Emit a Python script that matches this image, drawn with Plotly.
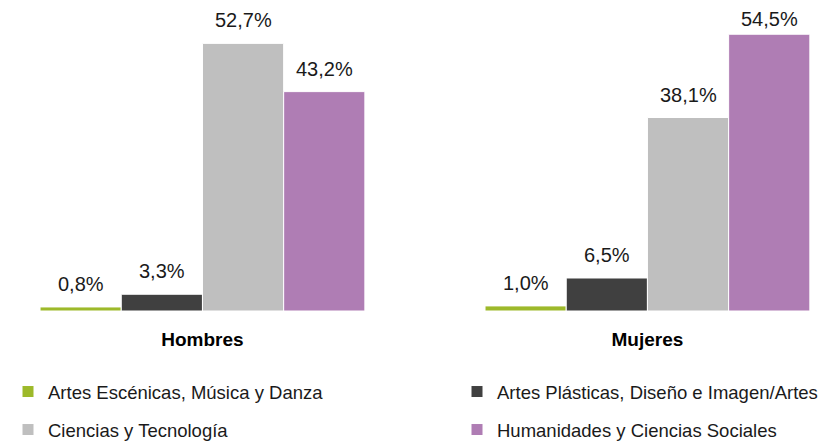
import plotly.graph_objects as go

grupos = ["Hombres", "Mujeres"]
series = [
    "Artes Escénicas, Música y Danza",
    "Artes Plásticas, Diseño e Imagen/Artes",
    "Ciencias y Tecnología",
    "Humanidades y Ciencias Sociales",
]
valores = [
    [0.8, 1.0],
    [3.3, 6.5],
    [52.7, 38.1],
    [43.2, 54.5],
]
colores = ["#9DB92A", "#404040", "#BFBFBF", "#AF7DB4"]

FONT = "Liberation Sans, Arial, sans-serif"
W, H = 833, 441
M_TOP, M_BOT = 12, 138
Y_MAX = 57.3
bargap = 0.27
bar_w = (1 - bargap) / len(series)

plot_h = H - M_TOP - M_BOT
px_per_unit = plot_h / Y_MAX

fig = go.Figure()
for k, (name, vals, col) in enumerate(zip(series, valores, colores)):
    fig.add_trace(go.Bar(
        x=grupos, y=vals, name=name,
        marker=dict(color=col, line=dict(color="white", width=1)),
        legend="legend" if k == 0 else f"legend{k + 1}",
    ))
    off = (k - (len(series) - 1) / 2) * bar_w
    for i, v in enumerate(vals):
        # keep the label inside the figure: pull it down toward the bar if needed
        bar_top = M_TOP + plot_h - v * px_per_unit
        shift = min(10, bar_top - 24)
        fig.add_annotation(
            x=i + off, y=v, text=f"{v:.1f}%".replace(".", ","),
            showarrow=False, yanchor="bottom", yshift=shift,
            font=dict(size=20, color="#1a1a1a", family=FONT),
        )

legend_style = dict(
    orientation="h", xref="paper", yref="container",
    xanchor="left", yanchor="middle",
    font=dict(size=18.5, color="#1a1a1a", family=FONT),
    bgcolor="rgba(0,0,0,0)",
)
# two columns x two rows, one legend per entry
leg_x = [0.0, 449 / W]
leg_y = [1 - 384 / H, 1 - 422 / H]

fig.update_layout(
    width=W, height=H,
    showlegend=True,
    margin=dict(l=0, r=0, t=M_TOP, b=M_BOT),
    paper_bgcolor="white", plot_bgcolor="white",
    barmode="group", bargap=bargap, bargroupgap=0,
    font=dict(family=FONT, size=19, color="#1a1a1a"),
    xaxis=dict(
        range=[-0.437, 1.435], showgrid=False, zeroline=False, showline=False,
        ticks="", ticklabelstandoff=15,
        tickfont=dict(size=19, family=FONT, color="black", weight="bold"),
    ),
    yaxis=dict(range=[0, Y_MAX], visible=False, showgrid=False),
    legend=dict(legend_style, x=leg_x[0], y=leg_y[0]),
    legend2=dict(legend_style, x=leg_x[1], y=leg_y[0]),
    legend3=dict(legend_style, x=leg_x[0], y=leg_y[1]),
    legend4=dict(legend_style, x=leg_x[1], y=leg_y[1]),
)

fig.write_html("out.html")
